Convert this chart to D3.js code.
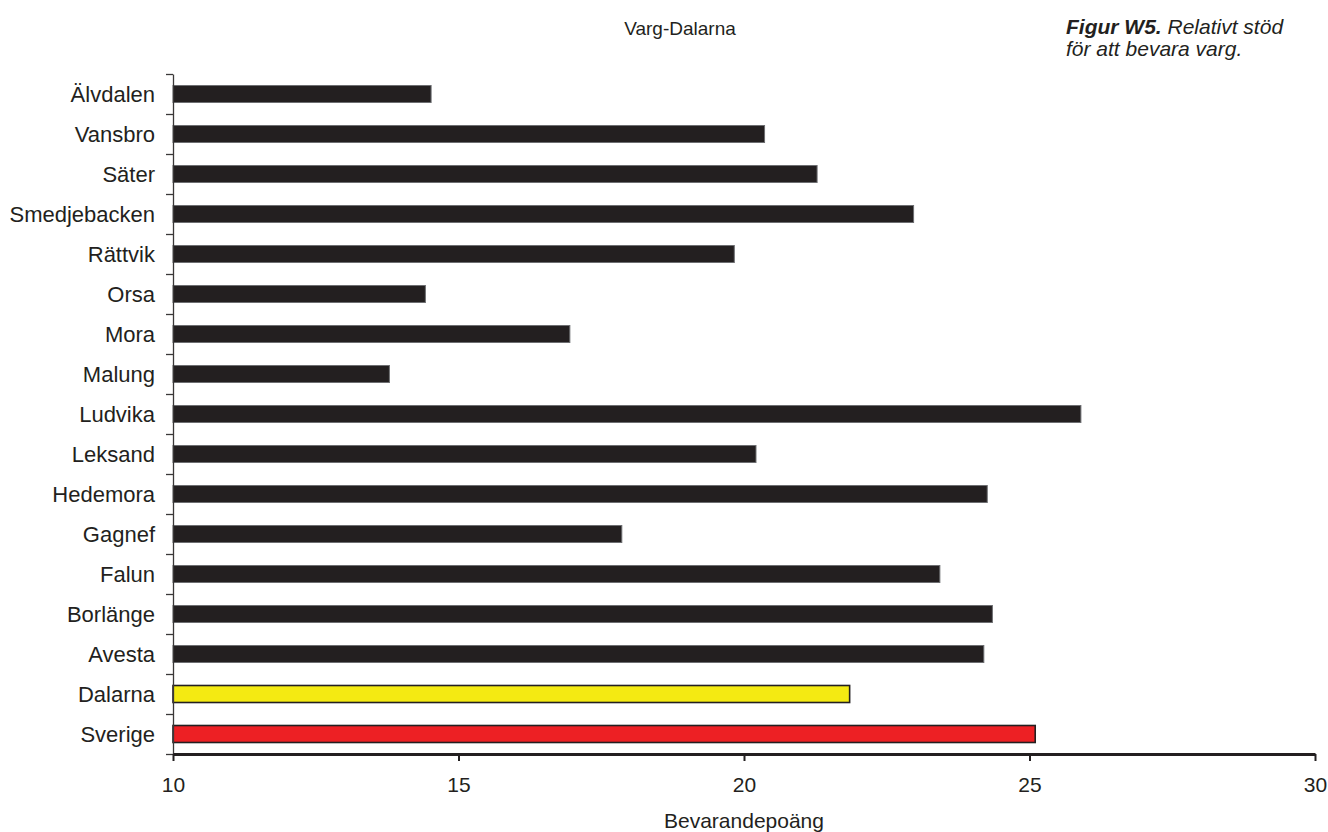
<!DOCTYPE html>
<html>
<head>
<meta charset="utf-8">
<script src="https://cdn.jsdelivr.net/npm/d3@7"></script>
<style>
  html, body { margin: 0; padding: 0; background: #fff; }
  svg { display: block; font-family: "Liberation Sans", Arial, sans-serif; }
</style>
</head>
<body>
<svg id="chart" width="1328" height="832"></svg>
<script>
const categories = ["Älvdalen","Vansbro","Säter","Smedjebacken","Rättvik","Orsa","Mora","Malung","Ludvika","Leksand","Hedemora","Gagnef","Falun","Borlänge","Avesta","Dalarna","Sverige"];
const values = [14.52, 20.36, 21.28, 22.97, 19.83, 14.42, 16.95, 13.79, 25.9, 20.21, 24.26, 17.86, 23.43, 24.35, 24.2, 21.85, 25.1];
const barColors = ["#231f20","#231f20","#231f20","#231f20","#231f20","#231f20","#231f20","#231f20","#231f20","#231f20","#231f20","#231f20","#231f20","#231f20","#231f20","#f4ea12","#ed2024"];
const xTicks = [10, 15, 20, 25, 30];
const title = "Varg-Dalarna";
const xTitle = "Bevarandepoäng";
const captionBold = "Figur W5.";
const captionRest = " Relativt stöd";
const captionLine2 = "för att bevara varg.";

(function () {
const svg = d3.select("#chart");
const ink = "#231f20";
const mLeft = 173, mRight = 1315, mTop = 74, mBottom = 754;

const x = d3.scaleLinear().domain([10, 30]).range([mLeft, mRight]);
const y = d3.scaleBand().domain(categories).range([mTop, mBottom]).paddingInner(0.575).paddingOuter(0.2875);
const yb = d3.scaleLinear().domain([0, categories.length]).range([mTop, mBottom]);

// bars
svg.append("g").selectAll("rect").data(categories).join("rect")
  .attr("x", x(10))
  .attr("y", d => y(d))
  .attr("width", (d, i) => x(values[i]) - x(10))
  .attr("height", y.bandwidth())
  .attr("fill", (d, i) => barColors[i])
  .attr("stroke", (d, i) => i >= 15 ? ink : "#6d6e71")
  .attr("stroke-width", (d, i) => i >= 15 ? 1.6 : 1);

// y axis (ticks at band boundaries)
const ya = svg.append("g").attr("transform", `translate(${mLeft},0)`)
  .call(d3.axisLeft(yb).tickValues(d3.range(0, categories.length + 1)).tickFormat("").tickSize(7).tickSizeOuter(0));
ya.selectAll("path, line").attr("stroke", "#3b3838").attr("stroke-width", 1.3);

// category labels
svg.append("g").selectAll("text").data(categories).join("text")
  .attr("x", 155)
  .attr("y", d => y(d) + y.bandwidth() / 2)
  .attr("dy", "0.35em")
  .attr("text-anchor", "end")
  .attr("font-size", 22)
  .attr("fill", ink)
  .text(d => d);

// x axis
const xa = svg.append("g").attr("transform", `translate(0,${mBottom})`)
  .call(d3.axisBottom(x).tickValues(xTicks).tickSize(7).tickSizeOuter(0).tickPadding(16));
xa.select(".domain").attr("stroke", ink).attr("stroke-width", 3);
xa.selectAll(".tick line").attr("stroke", ink).attr("stroke-width", 2);
xa.selectAll(".tick text").attr("font-size", 21).attr("fill", ink).attr("font-family", "Liberation Sans, Arial, sans-serif");

// titles
svg.append("text").attr("x", 680).attr("y", 35).attr("text-anchor", "middle")
  .attr("font-size", 19).attr("fill", ink).text(title);
svg.append("text").attr("x", 744).attr("y", 828).attr("text-anchor", "middle")
  .attr("font-size", 21).attr("fill", ink).text(xTitle);

const cap = svg.append("text").attr("x", 1066).attr("y", 34).attr("font-size", 21).attr("font-style", "italic").attr("fill", ink);
cap.append("tspan").attr("font-weight", "bold").text(captionBold);
cap.append("tspan").text(captionRest);
svg.append("text").attr("x", 1066).attr("y", 56).attr("font-size", 21).attr("font-style", "italic").attr("fill", ink).text(captionLine2);
})();
</script>
</body>
</html>
